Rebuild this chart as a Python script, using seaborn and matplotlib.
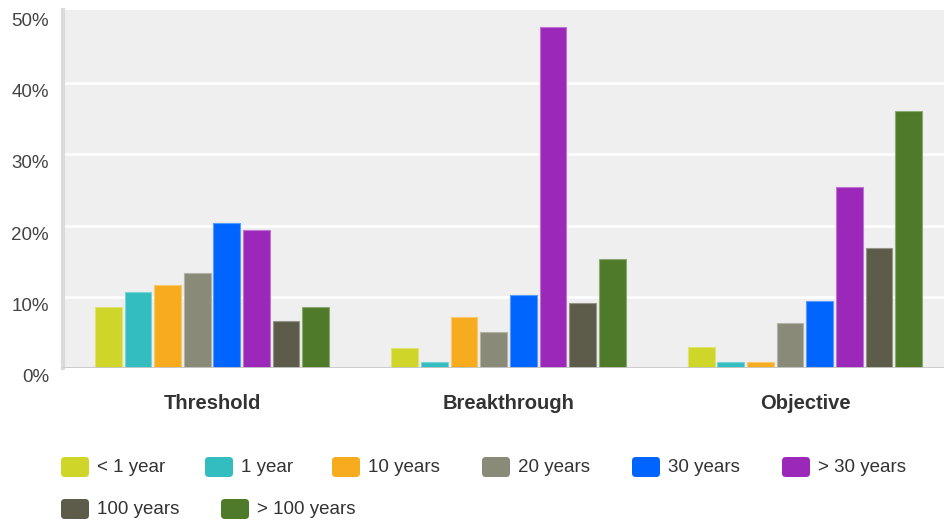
import matplotlib
matplotlib.use("Agg")
import matplotlib.pyplot as plt
import matplotlib.transforms as mtransforms
from matplotlib.patches import FancyBboxPatch
import matplotlib.colors as mcolors
import seaborn as sns
import pandas as pd

categories = ["Threshold", "Breakthrough", "Objective"]
series = ["< 1 year", "1 year", "10 years", "20 years", "30 years",
          "> 30 years", "100 years", "> 100 years"]
colors = ["#d0d52a", "#33bdc0", "#f7ac1f", "#8a8a78", "#0064ff",
          "#9b28b9", "#5d5b4a", "#4e7a29"]

lt1_year = [8.6, 2.8, 3.0]
y1 = [10.6, 0.85, 0.85]
y10 = [11.6, 7.1, 0.85]
y20 = [13.3, 5.05, 6.3]
y30 = [20.4, 10.3, 9.4]
gt30 = [19.4, 47.9, 25.4]
y100 = [6.6, 9.1, 16.8]
gt100 = [8.6, 15.3, 36.1]

values = [lt1_year, y1, y10, y20, y30, gt30, y100, gt100]
yticks = [0, 10, 20, 30, 40, 50]
ytick_labels = ["0%", "10%", "20%", "30%", "40%", "50%"]

rows = []
for s, vals in zip(series, values):
    for c, v in zip(categories, vals):
        rows.append({"category": c, "series": s, "value": v})
df = pd.DataFrame(rows)

sns.set_theme(style="white")
plt.rcParams["font.family"] = ["Liberation Sans", "DejaVu Sans"]

W, H = 944, 521
fig = plt.figure(figsize=(W / 100, H / 100), dpi=100)
ax_left, ax_right, ax_top, ax_bottom = 63, 944, 10, 368
ax = fig.add_axes([ax_left / W, 1 - ax_bottom / H,
                   (ax_right - ax_left) / W, (ax_bottom - ax_top) / H])
ax.set_facecolor("#efefef")

sns.barplot(data=df, x="category", y="value", hue="series",
            order=categories, hue_order=series, palette=colors,
            width=0.8, gap=0.1, ax=ax, legend=False, saturation=1,
            zorder=3)

for p in ax.patches:
    fc = mcolors.to_rgb(p.get_facecolor())
    ec = tuple(c + (1 - c) * 0.35 for c in fc)
    p.set_edgecolor(ec)
    p.set_linewidth(0.8)

ax.set_xlim(-0.5025, 2.469)
ax.set_ylim(0, 50.25)
ax.set_yticks(yticks)
ax.set_yticklabels(ytick_labels)
for y in yticks[1:-1]:
    ax.axhline(y, color="white", lw=1.8, zorder=1)
ax.axhline(0, color="#c8c8c8", lw=2, zorder=4)

for sp in ["top", "right", "bottom"]:
    ax.spines[sp].set_visible(False)
ax.spines["left"].set_color("#dadada")
ax.spines["left"].set_linewidth(3)

ax.set_xlabel("")
ax.set_ylabel("")
ax.tick_params(axis="y", length=0, pad=10, labelsize=13.5, labelcolor="#444444")
ax.tick_params(axis="x", length=0, pad=19, labelsize=14.5, labelcolor="#333333")
for lab in ax.get_xticklabels():
    lab.set_fontweight("bold")

off = mtransforms.ScaledTranslation(0, -7.5 / 100, fig.dpi_scale_trans)
for lab in ax.get_yticklabels():
    lab.set_transform(lab.get_transform() + off)

# Legend (two rows, flowing like the original)
legend_pos = [(61, 467), (205, 467), (332, 467), (482, 467), (632, 467), (782, 467),
              (61, 509), (221, 509)]
sw_w, sw_h = 28, 20
for (lx, ly), s, c in zip(legend_pos, series, colors):
    patch = FancyBboxPatch(((lx) / W, 1 - (ly + sw_h / 2) / H),
                           sw_w / W, sw_h / H,
                           boxstyle="round,pad=0,rounding_size=0.004",
                           transform=fig.transFigure, facecolor=c,
                           edgecolor="none", mutation_aspect=W / H)
    fig.patches.append(patch)
    fig.text((lx + sw_w + 8) / W, 1 - ly / H, s, fontsize=13.5,
             color="#333333", va="center", ha="left")

fig.savefig("out.png", dpi=100)
